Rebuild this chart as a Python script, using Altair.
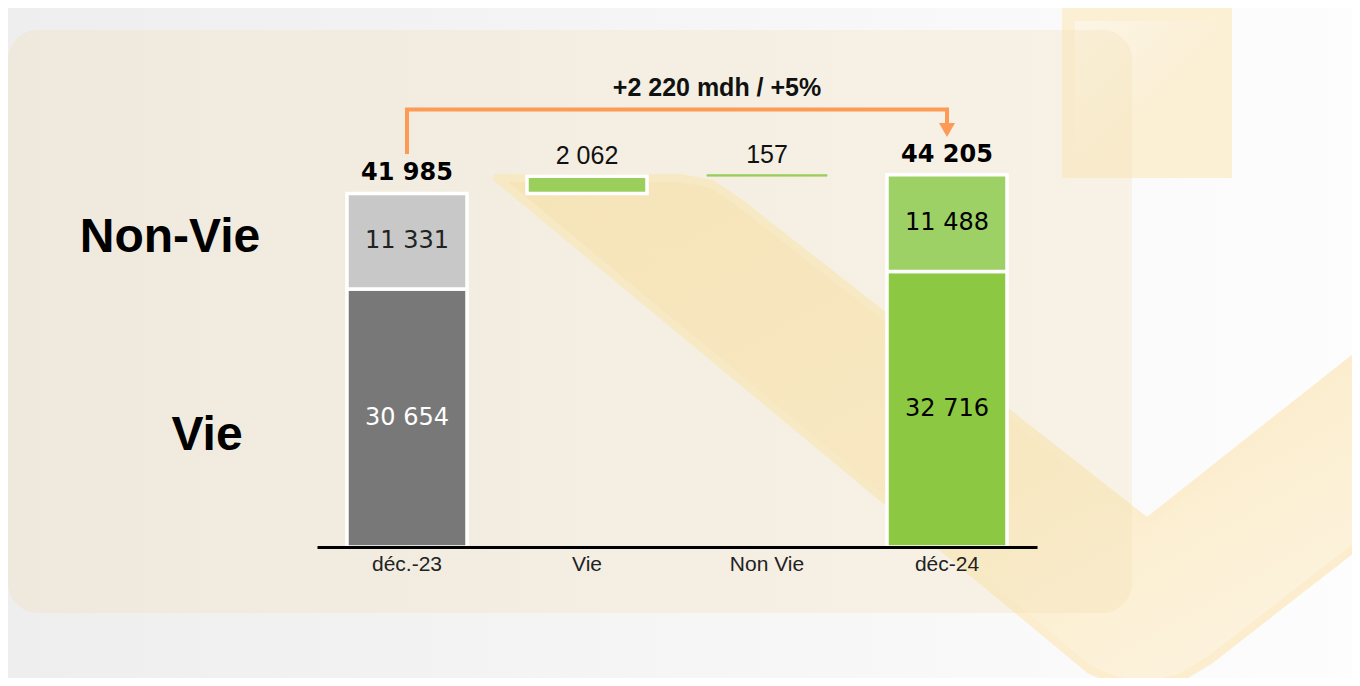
import altair as alt
import pandas as pd

# ---------------- data ----------------
categories = ["déc.-23", "Vie", "Non Vie", "déc-24"]
vie_2023 = 30654
nonvie_2023 = 11331
delta_vie = 2062
delta_nonvie = 157
vie_2024 = 32716
nonvie_2024 = 11488
total_2023 = 41985
total_2024 = 44205
title_text = "+2 220 mdh / +5%"
row_labels = ["Non-Vie", "Vie"]
row_label_values = [36700, 13200]
arrow_values = [46675, 51960, 51960, 50119]
arrow_head_value = 49525
title_value = 54513


def fmt(v):
    return f"{v:,}".replace(",", " ")


# ---------------- styles ----------------
DARK = "#787878"
LGRAY = "#c7c8c7"
GREEN = "#8cc842"
LGREEN = "#9ed165"
DELTA = "#9bcf5c"
ORANGE = "#fd9b56"

bars = pd.DataFrame([
    dict(cat=categories[0], y0=0, y1=vie_2023, fill=DARK, stroke="white", sw=3.5,
         label=fmt(vie_2023), lc="white"),
    dict(cat=categories[0], y0=vie_2023, y1=total_2023, fill=LGRAY, stroke="white", sw=3.5,
         label=fmt(nonvie_2023), lc="#222222"),
    dict(cat=categories[1], y0=total_2023, y1=total_2023 + delta_vie, fill=DELTA, stroke="white",
         sw=3.5, label="", lc="black"),
    dict(cat=categories[2], y0=total_2024 - delta_nonvie, y1=total_2024, fill=DELTA, stroke=DELTA,
         sw=1, label="", lc="black"),
    dict(cat=categories[3], y0=0, y1=vie_2024, fill=GREEN, stroke="white", sw=3.5,
         label=fmt(vie_2024), lc="black"),
    dict(cat=categories[3], y0=vie_2024, y1=total_2024, fill=LGREEN, stroke="white", sw=3.5,
         label=fmt(nonvie_2024), lc="black"),
])
bars["mid"] = (bars["y0"] + bars["y1"]) / 2
seg = bars[bars["label"] != ""]

totals = pd.DataFrame({"cat": [categories[0], categories[3]],
                       "v": [total_2023, total_2024],
                       "label": [fmt(total_2023), fmt(total_2024)]})
deltas = pd.DataFrame({"cat": [categories[1], categories[2]],
                       "v": [total_2023 + delta_vie, total_2024],
                       "label": [fmt(delta_vie), fmt(delta_nonvie)]})
arrow = pd.DataFrame({"cat": [categories[0], categories[0], categories[3], categories[3]],
                      "v": arrow_values, "o": [0, 1, 2, 3]})
head = pd.DataFrame({"cat": [categories[3]], "v": [arrow_head_value]})
title_df = pd.DataFrame({"t": [title_text], "v": [title_value]})
rows_df = pd.DataFrame({"t": row_labels, "v": row_label_values, "px": [-147, -110]})

# ---------------- scales ----------------
xscale = alt.Scale(domain=categories, paddingInner=1 / 3, paddingOuter=1 / 6)
yscale = alt.Scale(domain=[0, 52257], nice=False, zero=True)
xaxis = alt.Axis(title=None, labelFont="Liberation Sans", labelFontSize=21, labelColor="#222222",
                 labelAngle=0, domainColor="black", domainWidth=3, ticks=False, labelPadding=6,
                 grid=False, zindex=1)
X = alt.X("cat:N", scale=xscale, sort=categories, axis=xaxis)

one = pd.DataFrame({"a": [0]})

# ---------------- decorations (pixel space) ----------------
bg = alt.Chart(one).mark_rect(
    color=alt.Gradient(gradient="linear", x1=0, x2=1, y1=0, y2=0,
                       stops=[alt.GradientStop(color="#eeeeee", offset=0),
                              alt.GradientStop(color="#fdfdfd", offset=1)])
).encode(x=alt.value(-309), x2=alt.value(1035), y=alt.value(-99), y2=alt.value(571))

band_poly = [[180, 71], [363, 71], [395, 77], [423, 96], [830, 415], [1060, 233],
             [1060, 423], [893, 553], [863, 571], [830, 578], [798, 573], [773, 563], [180, 71]]
band_feature = {"type": "Feature", "properties": {},
                "geometry": {"type": "Polygon", "coordinates": [band_poly]}}
band = alt.Chart(alt.Data(values=[band_feature])).mark_geoshape(
    fill=alt.Gradient(gradient="linear", x1=0, x2=1, y1=0, y2=1,
                      stops=[alt.GradientStop(color="#f9e6bc", offset=0),
                             alt.GradientStop(color="#fbecca", offset=0.6),
                             alt.GradientStop(color="#fdf5e4", offset=1)]),
    stroke="#fbedcd", strokeWidth=8, strokeJoin="round", clip=False
).project(type="identity", scale=1, translate=[0, 0])

square = alt.Chart(one).mark_rect(color="#fbefd4").encode(
    x=alt.value(745), x2=alt.value(915), y=alt.value(-99), y2=alt.value(71))
inner_sq = alt.Chart(one).mark_rect(
    color=alt.Gradient(gradient="linear", x1=0, x2=1, y1=0, y2=1,
                       stops=[alt.GradientStop(color="#fcf5e6", offset=0),
                              alt.GradientStop(color="#fbefd4", offset=0.6)])
).encode(x=alt.value(758), x2=alt.value(901), y=alt.value(-86), y2=alt.value(58))

rrect = alt.Chart(one).mark_rect(color="#f1ddb1", opacity=0.28, cornerRadius=30).encode(
    x=alt.value(-309), x2=alt.value(815), y=alt.value(-77), y2=alt.value(506))

# ---------------- chart marks ----------------
bar_layer = alt.Chart(bars).mark_bar().encode(
    x=X,
    y=alt.Y("y1:Q", scale=yscale, axis=None),
    y2="y0:Q",
    fill=alt.Fill("fill:N", scale=None),
    stroke=alt.Stroke("stroke:N", scale=None),
    strokeWidth=alt.StrokeWidth("sw:Q", scale=None),
)

seg_text = alt.Chart(seg).mark_text(font="DejaVu Sans", fontSize=24, baseline="middle").encode(
    x=X, y=alt.Y("mid:Q", scale=yscale, axis=None), text="label:N",
    color=alt.Color("lc:N", scale=None))

total_text = alt.Chart(totals).mark_text(
    font="DejaVu Sans", fontWeight="bold", fontSize=24, baseline="middle", dy=-20, color="black"
).encode(x=X, y=alt.Y("v:Q", scale=yscale, axis=None), text="label:N")

delta_text = alt.Chart(deltas).mark_text(
    font="Liberation Sans", fontSize=25, baseline="middle", dy=-20, color="#111111"
).encode(x=X, y=alt.Y("v:Q", scale=yscale, axis=None), text="label:N")

arrow_line = alt.Chart(arrow).mark_line(
    color=ORANGE, strokeWidth=4, strokeJoin="miter", strokeCap="butt"
).encode(x=X, y=alt.Y("v:Q", scale=yscale, axis=None), order="o:Q")

arrow_head = alt.Chart(head).mark_point(
    shape="triangle-down", filled=True, size=256, color=ORANGE, opacity=1
).encode(x=X, y=alt.Y("v:Q", scale=yscale, axis=None))

title = alt.Chart(title_df).mark_text(
    font="Liberation Sans", fontWeight="bold", fontSize=25, baseline="middle", color="#111111"
).encode(x=alt.value(400), y=alt.Y("v:Q", scale=yscale, axis=None), text="t:N")

rows = alt.Chart(rows_df).mark_text(
    font="Liberation Sans", fontWeight="bold", fontSize=48, baseline="middle", color="black"
).encode(x=alt.X("px:Q", scale=None), y=alt.Y("v:Q", scale=yscale, axis=None), text="t:N")

chart = alt.layer(
    bg, band, square, inner_sq, rrect,
    bar_layer, seg_text, total_text, delta_text, arrow_line, arrow_head, title, rows
).properties(
    width=720, height=440,
    autosize=alt.AutoSizeParams(type="none"),
    padding={"left": 309, "top": 99, "right": 315, "bottom": 131},
    background="#f2f2f2",
).configure_view(stroke=None)

chart.save("out.html", embed_options={"renderer": "svg", "actions": False})
